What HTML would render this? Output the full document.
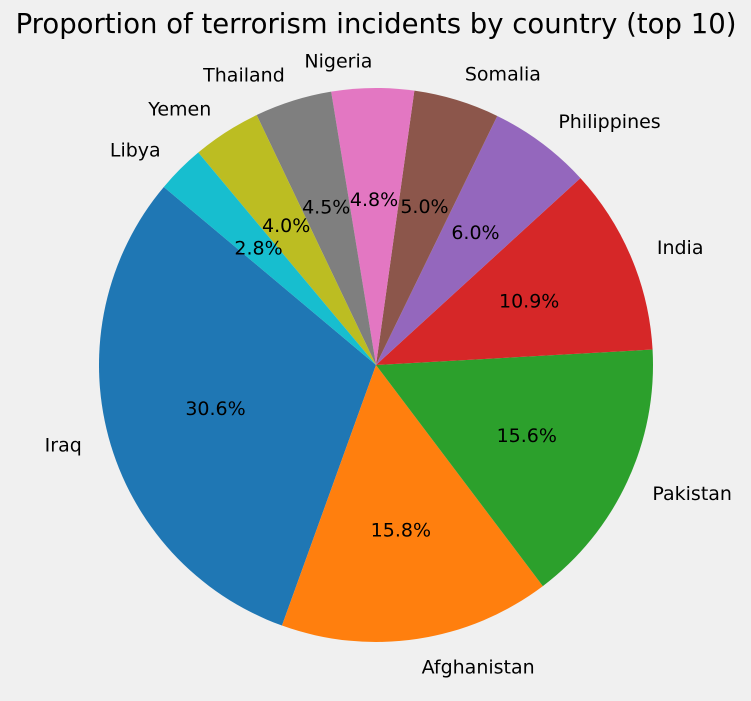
<!DOCTYPE html>
<html><head><meta charset="utf-8"><style>
body{margin:0;background:#f0f0f0;}
svg{display:block;font-family:"DejaVu Sans","Liberation Sans",sans-serif;}
</style></head><body>
<svg id="chart" width="751" height="701" viewBox="0 0 751 701">
<rect width="751" height="701" fill="#f0f0f0"/>
<text x="376" y="33" text-anchor="middle" font-size="27.5" fill="#000">Proportion of terrorism incidents by country (top 10)</text>
<g id="slices"></g>
<g id="labels"></g>
</svg>
<script>
const categories=["Iraq","Afghanistan","Pakistan","India","Philippines","Somalia","Nigeria","Thailand","Yemen","Libya"];
const values=[30.6,15.8,15.6,10.9,6.0,5.0,4.8,4.5,4.0,2.8];
const colors=["#1f77b4","#ff7f0e","#2ca02c","#d62728","#9467bd","#8c564b","#e377c2","#7f7f7f","#bcbd22","#17becf"];
const cx=376,cy=365,r=277,start=140;
const ns="http://www.w3.org/2000/svg";
const sg=document.getElementById('slices'),lg=document.getElementById('labels');
const total=values.reduce((a,b)=>a+b,0);
let a=start;
function pt(deg,rr){const t=deg*Math.PI/180;return [cx+rr*Math.cos(t),cy-rr*Math.sin(t)];}
values.forEach((v,i)=>{
  const sweep=v/total*360, a2=a+sweep;
  const p1=pt(a,r),p2=pt(a2,r);
  const path=document.createElementNS(ns,'path');
  path.setAttribute('d',`M${cx},${cy} L${p1[0]},${p1[1]} A${r},${r} 0 ${sweep>180?1:0} 0 ${p2[0]},${p2[1]} Z`);
  path.setAttribute('fill',colors[i]);
  
  
  sg.appendChild(path);
  const mid=a+sweep/2;
  const lp=pt(mid,r*1.1);
  const t=document.createElementNS(ns,'text');
  t.setAttribute('x',lp[0]);t.setAttribute('y',lp[1]+7);
  t.setAttribute('font-size','19');
  t.setAttribute('text-anchor',Math.cos(mid*Math.PI/180)>0?'start':'end');
  t.textContent=categories[i];
  
  
  lg.appendChild(t);
  const pp=pt(mid,r*0.6);
  const q=document.createElementNS(ns,'text');
  q.setAttribute('x',pp[0]);q.setAttribute('y',pp[1]+7);
  q.setAttribute('font-size','19');q.setAttribute('text-anchor','middle');
  q.textContent=v.toFixed(1)+'%';
  
  
  lg.appendChild(q);
  a=a2;
});
</script>
</body></html>
